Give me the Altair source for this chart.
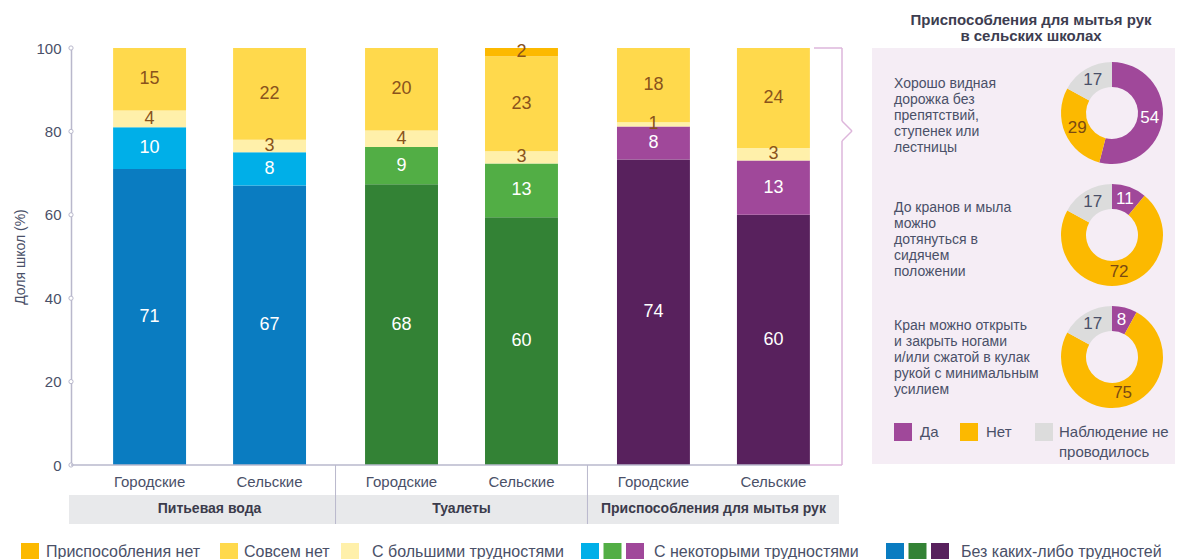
import altair as alt
import pandas as pd

FONT = "Liberation Sans"

# ---------------- data ----------------
groups = ["Питьевая вода", "Туалеты", "Приспособления для мытья рук"]
areas = ["Городские", "Сельские"]
bar_group = ["Питьевая вода", "Питьевая вода", "Туалеты", "Туалеты",
             "Приспособления для мытья рук", "Приспособления для мытья рук"]
bar_area = ["Городские", "Сельские", "Городские", "Сельские", "Городские", "Сельские"]
no_difficulty = [71, 67, 68, 60, 74, 60]
some_difficulty = [10, 8, 9, 13, 8, 13]
great_difficulty = [4, 3, 4, 3, 1, 3]
none_at_all = [15, 22, 20, 23, 18, 24]
no_facility = [0, 0, 0, 2, 0, 0]
levels = ["Без каких-либо трудностей", "С некоторыми трудностями",
          "С большими трудностями", "Совсем нет", "Приспособления нет"]
legend_labels = ["Приспособления нет", "Совсем нет", "С большими трудностями",
                 "С некоторыми трудностями", "Без каких-либо трудностей"]
y_ticks = [0, 20, 40, 60, 80, 100]
y_title = "Доля школ (%)"

side_title = ["Приспособления для мытья рук", "в сельских школах"]
donut_questions = [
    "Хорошо видная\nдорожка без\nпрепятствий,\nступенек или\nлестницы",
    "До кранов и мыла\nможно\nдотянуться в\nсидячем\nположении",
    "Кран можно открыть\nи закрыть ногами\nи/или сжатой в кулак\nрукой с минимальным\nусилием",
]
donut_answers = ["Да", "Нет", "Наблюдение не\nпроводилось"]
donut_yes = [54, 11, 8]
donut_no = [29, 72, 75]
donut_not_observed = [17, 17, 17]

# ---------------- styles ----------------
group_colors = {
    "Питьевая вода": ("#0A7CC1", "#00AFE8"),
    "Туалеты": ("#338235", "#52AE45"),
    "Приспособления для мытья рук": ("#58215D", "#A0489A"),
}
great_col, none_col, nofac_col = "#FFF0AA", "#FFD94C", "#FCB900"
brown = "#8A531C"
text_col = "#4A5068"
axis_col = "#B9B8CC"
pink_line = "#DDB6DB"
panel_fill = "#F5EDF5"
donut_cols = ["#A0489A", "#FCB900", "#DCDCDC"]
donut_text_cols = ["white", "#7A4A12", text_col]

W, H = 781, 417
SW, SH = 303, 416

# ---------------- tables ----------------
rows = []
for i in range(6):
    vals = [no_difficulty[i], some_difficulty[i], great_difficulty[i], none_at_all[i], no_facility[i]]
    dark, light = group_colors[bar_group[i]]
    cols = [dark, light, great_col, none_col, nofac_col]
    tcols = ["white", "white", brown, brown, brown]
    total = sum(vals)
    cum = 0
    for k, lvl in enumerate(levels):
        v = vals[k]
        if v == 0:
            continue
        y0 = cum / total
        cum += v
        y1 = cum / total
        rows.append(dict(group=bar_group[i], area=bar_area[i], level=lvl, value=v,
                         y0=y0, y1=y1, mid=(y0 + y1) / 2, color=cols[k], tcolor=tcols[k]))
df = pd.DataFrame(rows)
bars_df = pd.DataFrame({"group": bar_group, "area": bar_area})
one = pd.DataFrame({"a": [0]})


def X():
    return alt.X("group:N", sort=groups, axis=None,
                 scale=alt.Scale(domain=groups, paddingInner=0, paddingOuter=0.05))


def XO():
    return alt.XOffset("area:N", sort=areas,
                       scale=alt.Scale(domain=areas, paddingInner=0.392, paddingOuter=0.246))


yscale = alt.Scale(domain=[0, 1], nice=False, zero=True)
yaxis = alt.Axis(values=[t / 100 for t in y_ticks], labelExpr="round(datum.value*100)",
                 ticks=False, grid=False, domainColor=axis_col, domainWidth=1.5,
                 labelFontSize=15, labelColor=text_col, labelPadding=10,
                 titleFontSize=14, titleFontWeight="normal", titleColor=text_col,
                 titlePadding=8)


def Y(field):
    return alt.Y(field, scale=yscale, stack=None, title=y_title, axis=yaxis)


bars = alt.Chart(df).mark_bar().encode(
    x=X(), xOffset=XO(),
    y=Y("y0:Q"),
    y2="y1:Q",
    color=alt.Color("color:N", scale=None),
)

bar_text = alt.Chart(df).mark_text(fontSize=18, baseline="middle").encode(
    x=X(), xOffset=XO(),
    y=Y("mid:Q"),
    text="value:Q",
    color=alt.Color("tcolor:N", scale=None),
)

tick_marks = alt.Chart(pd.DataFrame({"t": [t / 100 for t in y_ticks]})).mark_point(
    shape="circle", filled=True, fill="white", stroke=axis_col, strokeWidth=1, size=18, opacity=1
).encode(y=Y("t:Q"), x=alt.value(0))

cat_labels = alt.Chart(bars_df).mark_text(fontSize=15, color=text_col, baseline="middle").encode(
    x=X(), xOffset=XO(), y=alt.value(H + 17), text="area:N")

band = alt.Chart(one).mark_rect(color="#E8E9EB").encode(
    x=alt.value(-2), x2=alt.value(768), y=alt.value(H + 30), y2=alt.value(H + 59))

group_text = alt.Chart(pd.DataFrame({"group": groups})).mark_text(
    fontSize=14, fontWeight="bold", color="#3B3B4B", baseline="middle").encode(
    x=X(), y=alt.value(H + 44), text="group:N")

separators = alt.Chart(pd.DataFrame({"group": groups[1:]})).mark_rule(color=axis_col, strokeWidth=1).encode(
    x=alt.X("group:N", sort=groups, axis=None, bandPosition=0,
            scale=alt.Scale(domain=groups, paddingInner=0, paddingOuter=0.05)),
    y=alt.value(H), y2=alt.value(H + 59))


def seg(x1, y1, x2, y2, color, w=1.5):
    return alt.Chart(one).mark_rule(color=color, strokeWidth=w).encode(
        x=alt.value(x1), y=alt.value(y1), x2=alt.value(x2), y2=alt.value(y2))


decor = [
    seg(0, H, 739, H, axis_col),
    seg(739, H, 771, H, pink_line),
    seg(743, 0, 771, 0, pink_line),
    seg(771, 0, 771, 73, pink_line),
    seg(771, 73, 781, 83, pink_line),
    seg(781, 83, 771, 93, pink_line),
    seg(771, 93, 771, H, pink_line),
]

# bottom legend
leg_y = H + 87
legend_items = [
    ([nofac_col], -41, -25),
    ([none_col], 158, 173),
    ([great_col], 279, 301),
    ([group_colors[g][1] for g in groups], 519, 583),
    ([group_colors[g][0] for g in groups], 824, 890),
]
leg_layers = []
for (cols, sx, tx), label in zip(legend_items, legend_labels):
    for j, c in enumerate(cols):
        leg_layers.append(alt.Chart(one).mark_square(size=324, color=c, opacity=1).encode(
            x=alt.value(sx + j * 22.5), y=alt.value(leg_y)))
    leg_layers.append(alt.Chart(pd.DataFrame({"t": [label]})).mark_text(
        fontSize=16, color=text_col, align="left", baseline="middle").encode(
        x=alt.value(tx), y=alt.value(leg_y), text="t:N"))

main = alt.layer(band, bars, bar_text, tick_marks, cat_labels, group_text, separators,
                 *decor, *leg_layers).properties(width=W, height=H)

# ---------------- side panel ----------------
side_layers = []
for k, line in enumerate(side_title):
    side_layers.append(alt.Chart(pd.DataFrame({"t": [line]})).mark_text(
        fontSize=15, fontWeight="bold", color="#3D3D50", align="center", baseline="middle").encode(
        x=alt.value(159), y=alt.value(-28 + 16 * k), text="t:N"))

q_y = [40, 164, 282]
donut_cy = [65, 187, 309]
for q in range(3):
    side_layers.append(alt.Chart(pd.DataFrame({"t": [donut_questions[q]]})).mark_text(
        fontSize=14, color=text_col, align="left", baseline="alphabetic", lineBreak="\n", lineHeight=16).encode(
        x=alt.value(22), y=alt.value(q_y[q]), text="t:N"))
    vals = [donut_yes[q], donut_no[q], donut_not_observed[q]]
    start = 0
    drows = []
    for a in range(3):
        drows.append(dict(answer=donut_answers[a], value=vals[a], start=start, end=start + vals[a],
                          mid=start + vals[a] / 2, color=donut_cols[a], tcolor=donut_text_cols[a]))
        start += vals[a]
    ddf = pd.DataFrame(drows)
    side_layers.append(alt.Chart(ddf).mark_arc(innerRadius=26, outerRadius=51).encode(
        theta=alt.Theta("start:Q", scale=alt.Scale(domain=[0, 100]), stack=None),
        theta2="end:Q",
        color=alt.Color("color:N", scale=None),
        x=alt.value(240), y=alt.value(donut_cy[q])))
    side_layers.append(alt.Chart(ddf).mark_text(radius=38, fontSize=17, baseline="middle").encode(
        theta=alt.Theta("mid:Q", scale=alt.Scale(domain=[0, 100]), stack=None),
        text="value:Q",
        color=alt.Color("tcolor:N", scale=None),
        x=alt.value(240), y=alt.value(donut_cy[q])))

sw_x = [31, 97, 172]
st_x = [48, 114, 187]
for a in range(3):
    side_layers.append(alt.Chart(one).mark_square(size=324, color=donut_cols[a], opacity=1).encode(
        x=alt.value(sw_x[a]), y=alt.value(384)))
    side_layers.append(alt.Chart(pd.DataFrame({"t": [donut_answers[a]]})).mark_text(
        fontSize=15, color=text_col, align="left", baseline="alphabetic", lineBreak="\n", lineHeight=20).encode(
        x=alt.value(st_x[a]), y=alt.value(389), text="t:N"))

side = alt.layer(*side_layers).properties(
    width=SW, height=SH, view=alt.ViewBackground(fill=panel_fill, strokeWidth=0))

chart = alt.hconcat(main, side, spacing=20, bounds="flush").properties(
    padding={"left": 5, "top": 5, "right": 0, "bottom": 0}
).configure(font=FONT).configure_view(stroke="transparent")

chart.save("out.html", embed_options={"renderer": "svg", "actions": False})
